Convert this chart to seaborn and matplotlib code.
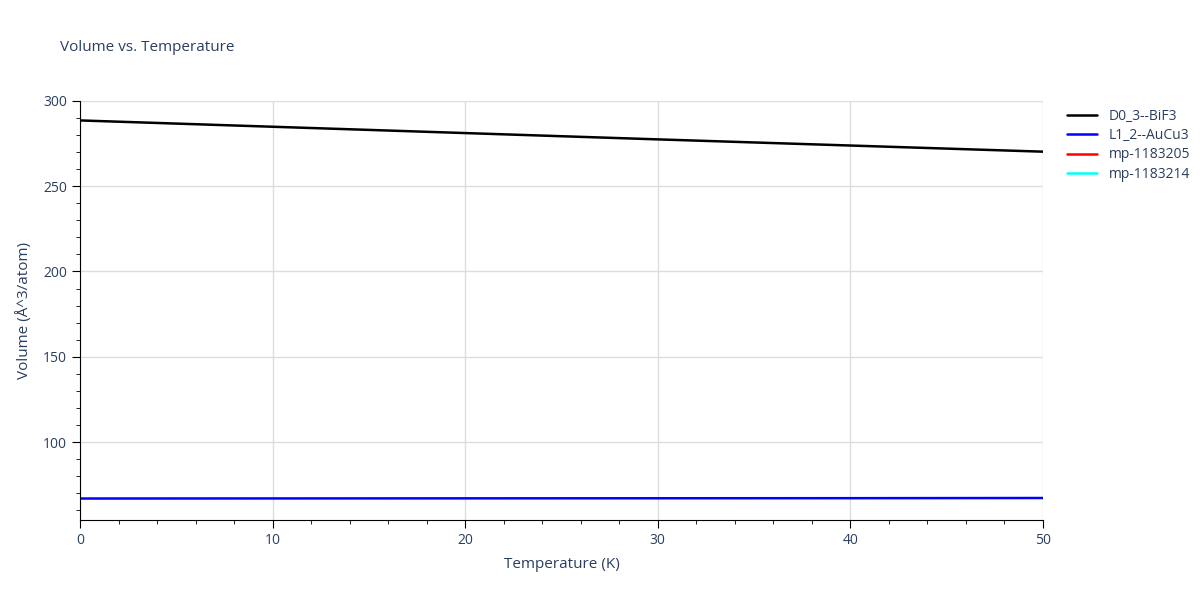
import matplotlib
matplotlib.use("Agg")
import matplotlib.pyplot as plt
import seaborn as sns
import pandas as pd
from matplotlib.ticker import MultipleLocator

# data
temperature = [0, 10, 20, 30, 40, 50]
vol_d03 = [288.5, 284.8, 281.1, 277.4, 273.8, 270.2]
vol_l12 = [67.0, 67.05, 67.1, 67.15, 67.2, 67.3]
series_names = ["D0_3--BiF3", "L1_2--AuCu3", "mp-1183205", "mp-1183214"]
series_colors = ["black", "blue", "red", "cyan"]

sns.set_style("white")
plt.rcParams["font.family"] = ["Open Sans", "DejaVu Sans"]

fig, ax = plt.subplots(figsize=(12, 6), dpi=100)
fig.subplots_adjust(left=0.0667, right=0.869, top=0.832, bottom=0.133)

df = pd.DataFrame({"T": temperature * 2,
                   "V": vol_d03 + vol_l12,
                   "name": [series_names[0]] * 6 + [series_names[1]] * 6})
sns.lineplot(data=df, x="T", y="V", hue="name",
             hue_order=series_names[:2], palette=series_colors[:2],
             linewidth=1.8, ax=ax, legend=False)
for name, c in zip(series_names, series_colors):
    ax.plot([], [], color=c, linewidth=1.8, label=name)

text_c = "#2a3f5f"
ax.set_xlim(0, 50)
ax.set_ylim(54.3, 300)
ax.xaxis.set_major_locator(MultipleLocator(10))
ax.xaxis.set_minor_locator(MultipleLocator(2))
ax.yaxis.set_major_locator(MultipleLocator(50))
ax.yaxis.set_minor_locator(MultipleLocator(10))
ax.grid(True, which="major", color="#dddddd", linewidth=1)
ax.set_axisbelow(True)
for s in ["top", "right"]:
    ax.spines[s].set_visible(False)
ax.spines["left"].set_color("black")
ax.spines["bottom"].set_color("black")
ax.tick_params(which="both", direction="out", colors="black", labelcolor=text_c, labelsize=10)
ax.tick_params(which="major", length=6, bottom=True, left=True)
ax.tick_params(which="minor", length=3, bottom=True, left=True)

ax.set_xlabel("Temperature (K)", color=text_c, fontsize=11, labelpad=6)
ax.set_ylabel("Volume (Å^3/atom)", color=text_c, fontsize=11, labelpad=8)
fig.text(0.05, 0.915, "Volume vs. Temperature", color=text_c, fontsize=11)

leg = ax.legend(loc="upper left", bbox_to_anchor=(1.012, 1.01), frameon=False,
                fontsize=10, handlelength=2.2, labelspacing=0.3)
for t in leg.get_texts():
    t.set_color(text_c)

fig.savefig("out.png")
